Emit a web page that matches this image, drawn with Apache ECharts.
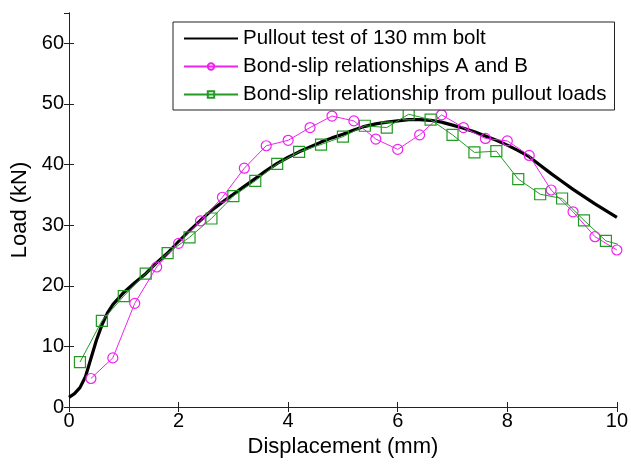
<!DOCTYPE html>
<html><head><meta charset="utf-8">
<script src="https://cdn.jsdelivr.net/npm/echarts@6/dist/echarts.min.js"></script>
<style>html,body{margin:0;padding:0;background:#fff}#c{width:631px;height:467px}</style>
</head><body><div id="c"></div>
<script>
// Pullout test of 130 mm bolt (measured curve)
const pulloutX = [0, 0.1, 0.2, 0.3, 0.4, 0.5, 0.6, 0.7, 0.8, 1.0, 1.2, 1.4, 1.6, 1.8, 2.0, 2.2, 2.4, 2.6, 2.8, 3.0, 3.2, 3.4, 3.6, 3.8, 4.0, 4.2, 4.4, 4.6, 4.8, 5.0, 5.2, 5.4, 5.6, 5.8, 6.0, 6.2, 6.4, 6.6, 6.8, 7.0, 7.2, 7.4, 7.6, 7.8, 8.0, 8.2, 8.4, 8.6, 8.8, 9.0, 9.2, 9.4, 9.6, 9.8, 10.0];
const pulloutY = [1.6, 2.2, 3.2, 5.0, 8.0, 11.0, 13.5, 15.5, 16.9, 18.9, 20.5, 22.0, 23.8, 25.4, 27.3, 29.1, 30.8, 32.4, 33.8, 35.1, 36.4, 37.7, 39.0, 40.2, 41.2, 42.1, 42.9, 43.7, 44.4, 45.0, 45.7, 46.3, 46.7, 47.0, 47.2, 47.4, 47.4, 47.3, 47.0, 46.5, 46.0, 45.4, 44.7, 44.0, 43.2, 42.3, 41.3, 39.9, 38.5, 37.2, 35.9, 34.7, 33.5, 32.4, 31.3];
// Bond-slip relationships A and B
const abX = [0.4, 0.8, 1.2, 1.6, 2.0, 2.4, 2.8, 3.2, 3.6, 4.0, 4.4, 4.8, 5.2, 5.6, 6.0, 6.4, 6.8, 7.2, 7.6, 8.0, 8.4, 8.8, 9.2, 9.6, 10.0];
const abY = [4.7, 8.1, 17.1, 23.1, 27.0, 30.7, 34.6, 39.4, 43.1, 44.0, 46.1, 48.0, 47.2, 44.2, 42.5, 44.9, 48.2, 46.1, 44.3, 43.9, 41.5, 35.8, 32.2, 28.1, 25.9];
// Bond-slip relationship from pullout loads
const plX = [0.2, 0.6, 1.0, 1.4, 1.8, 2.2, 2.6, 3.0, 3.4, 3.8, 4.2, 4.6, 5.0, 5.4, 5.8, 6.2, 6.6, 7.0, 7.4, 7.8, 8.2, 8.6, 9.0, 9.4, 9.8, 10.2];
const plY = [7.4, 14.2, 18.3, 22.0, 25.4, 28.0, 31.1, 34.8, 37.3, 40.1, 42.1, 43.3, 44.6, 46.4, 46.1, 48.3, 47.4, 44.9, 42.0, 42.2, 37.6, 35.1, 34.4, 30.8, 27.4, 26.4];

const seriesNames = ['Pullout test of 130 mm bolt', 'Bond-slip relationships A and B', 'Bond-slip relationship from pullout loads'];
const xRange = [0, 10], xStep = 2;
const yRange = [0, 65], yStep = 10;

const zip = (xs, ys) => xs.map((x, i) => [x, ys[i]]);
const FONT = 'Liberation Sans, Arial, Helvetica, sans-serif';
const AX = '#222';
const MAG = '#ee22ee', GRN = '#239a23';

const baseAxis = {
  type: 'value',
  axisLine: { show: true, lineStyle: { color: AX, width: 1 } },
  axisTick: { show: true, inside: true, length: 5, lineStyle: { color: AX } },
  splitLine: { show: false },
};

const chart = echarts.init(document.getElementById('c'), null, { renderer: 'canvas' });
chart.setOption({
  animation: false,
  backgroundColor: '#fff',
  grid: { left: 69, right: 11, top: 13, bottom: 60 },
  xAxis: [
    Object.assign({}, baseAxis, {
      position: 'bottom', min: xRange[0], max: xRange[1], interval: xStep,
      name: 'Displacement (mm)', nameLocation: 'middle', nameGap: 26,
      nameTextStyle: { fontSize: 22, color: '#000', fontFamily: FONT },
      axisLabel: { fontSize: 20, color: '#000', fontFamily: FONT, margin: 4 }
    }),
    Object.assign({}, baseAxis, {
      position: 'top', min: xRange[0], max: xRange[1], interval: xStep,
      axisLabel: { show: false }
    })
  ],
  yAxis: [
    Object.assign({}, baseAxis, {
      position: 'left', min: yRange[0], max: yRange[1], interval: yStep,
      name: 'Load (kN)', nameLocation: 'middle', nameGap: 34,
      nameTextStyle: { fontSize: 22, color: '#000', fontFamily: FONT },
      axisLabel: { fontSize: 20, color: '#000', fontFamily: FONT, margin: 5, showMaxLabel: false }
    }),
    Object.assign({}, baseAxis, {
      position: 'right', min: yRange[0], max: yRange[1], interval: yStep,
      axisLabel: { show: false }
    })
  ],
  legend: {
    orient: 'vertical', left: 173, top: 22,
    padding: [6, 8, 5, 10], itemGap: 7,
    itemWidth: 54, itemHeight: 8,
    backgroundColor: '#fff', borderColor: AX, borderWidth: 1, borderRadius: 0,
    textStyle: { fontSize: 20.5, color: '#000', fontFamily: FONT },
    data: [
      { name: seriesNames[0], itemStyle: { opacity: 0 } },
      seriesNames[1],
      seriesNames[2]
    ]
  },
  series: [
    {
      name: seriesNames[0], type: 'line', data: zip(pulloutX, pulloutY),
      symbol: 'none', smooth: false,
      lineStyle: { color: '#000', width: 3.2 }, itemStyle: { color: '#000' }
    },
    {
      name: seriesNames[1], type: 'line', data: zip(abX, abY),
      symbol: 'circle', symbolSize: 10,
      lineStyle: { color: MAG, width: 1 },
      itemStyle: { color: 'rgba(0,0,0,0)', borderColor: MAG, borderWidth: 1.2 }
    },
    {
      name: seriesNames[2], type: 'line', data: zip(plX, plY),
      symbol: 'rect', symbolSize: 11,
      lineStyle: { color: GRN, width: 1 },
      itemStyle: { color: 'rgba(0,0,0,0)', borderColor: GRN, borderWidth: 1.2 }
    }
  ]
});
</script>
</body></html>
